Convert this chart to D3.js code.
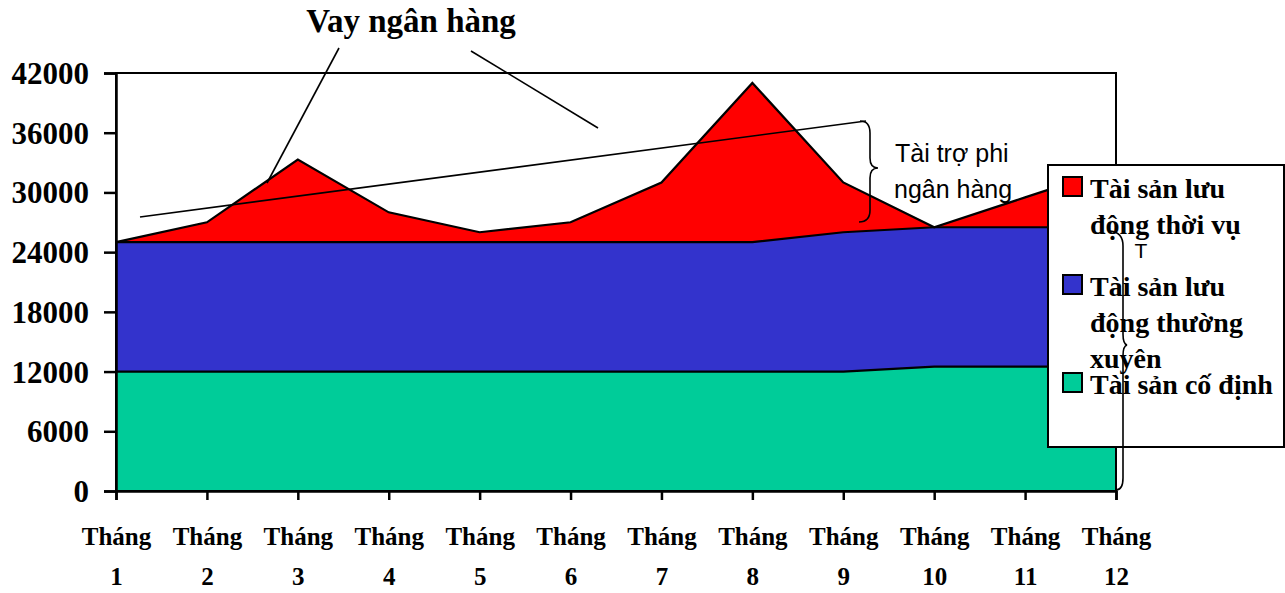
<!DOCTYPE html>
<html>
<head>
<meta charset="utf-8">
<script src="https://cdn.jsdelivr.net/npm/d3@7"></script>
<style>
  body { margin: 0; background: #fff; }
  svg { display: block; }
  .serif { font-family: "Liberation Serif", "Times New Roman", serif; font-weight: bold; fill: #000; }
</style>
</head>
<body>
<svg id="chart" width="1285" height="593"></svg>
<script>
// DATA
const months = ["1", "2", "3", "4", "5", "6", "7", "8", "9", "10", "11", "12"];
const fixedAssets = [12000, 12000, 12000, 12000, 12000, 12000, 12000, 12000, 12000, 12500, 12500, 12500];
const permanentCurrent = [13000, 13000, 13000, 13000, 13000, 13000, 13000, 13000, 14000, 14000, 14000, 14000];
const seasonalCurrent = [0, 2000, 8300, 3000, 1000, 2000, 6000, 16000, 5000, 0, 3000, 6000];
const yTicks = [0, 6000, 12000, 18000, 24000, 30000, 36000, 42000];
const seriesNames = ["Tài sản cố định", "Tài sản lưu động thường xuyên", "Tài sản lưu động thời vụ"];
const legendLines = [["Tài sản lưu", "động thời vụ"], ["Tài sản lưu", "động thường", "xuyên"], ["Tài sản cố định"]];
const colors = ["#00cc99", "#3333cc", "#ff0000"];

// LAYOUT
const plotL = 116, plotR = 1116, plotT = 73, plotB = 491;
const svg = d3.select("#chart");

const x = d3.scalePoint().domain(months).range([plotL, plotR]);
const y = d3.scaleLinear().domain([0, 42000]).range([plotB, plotT]);

const rows = months.map((m, i) => ({ m: m, a: fixedAssets[i], b: permanentCurrent[i], c: seasonalCurrent[i] }));
const stack = d3.stack().keys(["a", "b", "c"]);
const layers = stack(rows);

const area = d3.area()
  .x(d => x(d.data.m))
  .y0(d => y(d[0]))
  .y1(d => y(d[1]));
const topLine = d3.line()
  .x(d => x(d.data.m))
  .y(d => y(d[1]));

svg.append("g").selectAll("path")
  .data(layers)
  .join("path")
  .attr("d", area)
  .attr("fill", (d, i) => colors[i]);

svg.append("g").selectAll("path")
  .data(layers)
  .join("path")
  .attr("d", topLine)
  .attr("fill", "none")
  .attr("stroke", "#000")
  .attr("stroke-width", 2.2);

// plot frame
svg.append("rect")
  .attr("x", plotL).attr("y", plotT)
  .attr("width", plotR - plotL).attr("height", plotB - plotT)
  .attr("fill", "none").attr("stroke", "#000").attr("stroke-width", 2);

// Y axis
const yAxis = svg.append("g")
  .attr("transform", `translate(${plotL},0)`)
  .call(d3.axisLeft(y).tickValues(yTicks).tickSize(12).tickPadding(15).tickFormat(d3.format("d")));
yAxis.select(".domain").attr("stroke-width", 2.5);
yAxis.selectAll(".tick line").attr("stroke-width", 2.5);
yAxis.selectAll("text")
  .attr("class", "serif")
  .style("font-size", "31px")
  .attr("dy", "0.34em");

// X axis
const xAxis = svg.append("g")
  .attr("transform", `translate(0,${plotB})`)
  .call(d3.axisBottom(x).tickSize(9).tickFormat(""));
xAxis.select(".domain").attr("stroke-width", 2.5);
xAxis.selectAll(".tick line").attr("stroke-width", 2.5);
const xl = xAxis.selectAll(".tick text")
  .attr("class", "serif")
  .style("font-size", "25px")
  .attr("y", 0).attr("dy", 0);
xl.append("tspan").attr("x", 0).attr("y", 54).text("Tháng");
xl.append("tspan").attr("x", 0).attr("y", 94).text(d => d);

// annotations
const ann = svg.append("g").attr("fill", "none").attr("stroke", "#000").attr("stroke-width", 1.6);
ann.append("line").attr("x1", 339).attr("y1", 48).attr("x2", 267).attr("y2", 183);
ann.append("line").attr("x1", 471).attr("y1", 51).attr("x2", 598).attr("y2", 128);
ann.append("line").attr("x1", 140).attr("y1", 217).attr("x2", 866).attr("y2", 121);
ann.append("path")
  .attr("d", "M860,121 Q870,121 870,133 L870,158 Q870,168 878,168 Q870,168 870,178 L870,210 Q870,222 859,222");

svg.append("text")
  .attr("class", "serif")
  .attr("x", 411).attr("y", 32)
  .attr("text-anchor", "middle")
  .style("font-size", "33px")
  .text("Vay ngân hàng");

const phi = svg.append("text")
  .style("font-family", "'Liberation Sans', Arial, sans-serif")
  .style("font-size", "25px")
  .attr("fill", "#000");
phi.append("tspan").attr("x", 895).attr("y", 162).text("Tài trợ phi");
phi.append("tspan").attr("x", 894).attr("y", 198).text("ngân hàng");

// legend
const legend = svg.append("g");
legend.append("rect")
  .attr("x", 1048).attr("y", 165).attr("width", 236).attr("height", 282)
  .attr("fill", "#fff").attr("stroke", "#000").attr("stroke-width", 2);

const legendOrder = [2, 1, 0];
const swatchY = [177, 275, 373];
legendOrder.forEach((k, i) => {
  legend.append("rect")
    .attr("x", 1063).attr("y", swatchY[i]).attr("width", 19).attr("height", 19)
    .attr("fill", colors[k]).attr("stroke", "#000").attr("stroke-width", 2);
  const t = legend.append("text").attr("class", "serif").style("font-size", "28px");
  t.append("title").text(seriesNames[k]);
  legendLines[i].forEach((line, j) => {
    t.append("tspan").attr("x", 1090).attr("y", swatchY[i] + 21 + j * 36).text(line);
  });
});

// second brace over legend
svg.append("path")
  .attr("d", "M1110,231 Q1123,232 1123,246 L1123,334 Q1123,344 1127,345 Q1123,346 1123,356 L1123,478 Q1123,490 1116,490")
  .attr("fill", "none").attr("stroke", "#000").attr("stroke-width", 1.6);
svg.append("text")
  .attr("x", 1141).attr("y", 258)
  .attr("text-anchor", "middle")
  .attr("fill", "#000")
  .style("font-family", "'Liberation Sans', Arial, sans-serif")
  .style("font-size", "21px")
  .text("T");
</script>
</body>
</html>
